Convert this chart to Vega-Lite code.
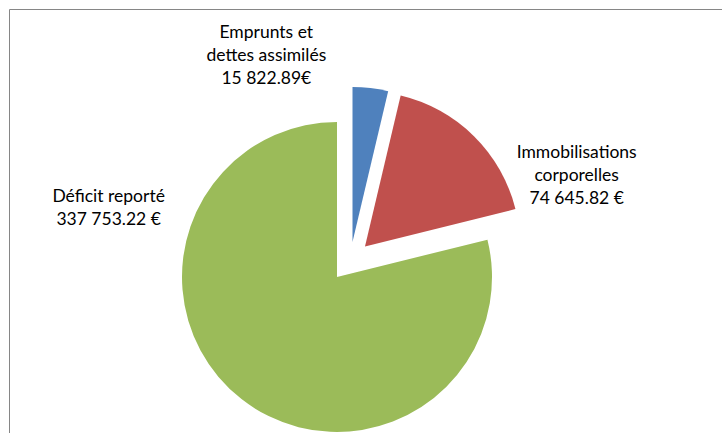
{
  "$schema": "https://vega.github.io/schema/vega-lite/v6.json",
  "width": 713,
  "height": 424,
  "padding": {"left": 9, "top": 9, "right": 0, "bottom": 0},
  "autosize": {"type": "none"},
  "background": "white",
  "config": {"view": {"stroke": null}},
  "data": {"values": [
    {"poste": "Emprunts et dettes assimilés", "montant": 15822.89, "etiquette": "Emprunts et\ndettes assimilés\n15 822.89€", "ordre": 1},
    {"poste": "Immobilisations corporelles", "montant": 74645.82, "etiquette": "Immobilisations\ncorporelles\n74 645.82  €", "ordre": 2},
    {"poste": "Déficit reporté", "montant": 337753.22, "etiquette": "Déficit reporté\n337 753.22 €", "ordre": 3}
  ]},
  "layer": [
    {
      "mark": {"type": "point", "opacity": 0},
      "encoding": {
        "x": {"datum": 0, "type": "quantitative", "scale": {"domain": [0, 1]},
              "axis": {"orient": "top", "domain": true, "domainColor": "#868686", "domainWidth": 1, "ticks": false, "labels": false, "grid": false, "title": null}},
        "y": {"datum": 0, "type": "quantitative", "scale": {"domain": [0, 1]},
              "axis": {"orient": "left", "domain": true, "domainColor": "#868686", "domainWidth": 1, "ticks": false, "labels": false, "grid": false, "title": null}}
      }
    },
    {
      "mark": {
        "type": "arc",
        "outerRadius": 155,
        "xOffset": {"expr": "datum.ordre == 1 ? -13 : datum.ordre == 2 ? -0.5 : -28.5"},
        "yOffset": {"expr": "datum.ordre == 1 ? 21 : datum.ordre == 2 ? 25.4 : 56"}
      },
      "encoding": {
        "theta": {"field": "montant", "type": "quantitative", "stack": true},
        "order": {"field": "ordre", "type": "quantitative"},
        "color": {
          "field": "poste",
          "type": "nominal",
          "scale": {
            "domain": ["Emprunts et dettes assimilés", "Immobilisations corporelles", "Déficit reporté"],
            "range": ["#4F81BD", "#C0504D", "#9BBB59"]
          },
          "legend": null
        }
      }
    },
    {
      "mark": {
        "type": "text",
        "radius": 210,
        "lineBreak": "\n",
        "font": "Lato",
        "fontSize": 17.5,
        "lineHeight": 23,
        "align": "center",
        "baseline": "middle",
        "xOffset": -28.5,
        "yOffset": 56,
        "dx": {"expr": "datum.ordre == 1 ? -95 : datum.ordre == 2 ? 92 : -99"},
        "dy": {"expr": "datum.ordre == 1 ? -35 : datum.ordre == 2 ? 25 : -245"}
      },
      "encoding": {
        "theta": {"field": "montant", "type": "quantitative", "stack": true},
        "order": {"field": "ordre", "type": "quantitative"},
        "text": {"field": "etiquette", "type": "nominal"},
        "color": {"value": "#000000"}
      }
    }
  ]
}
